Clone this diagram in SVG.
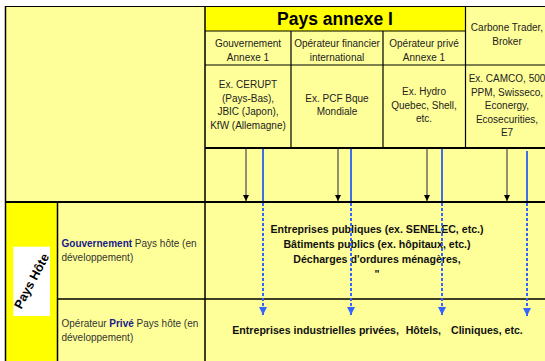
<svg xmlns="http://www.w3.org/2000/svg" width="545" height="361" viewBox="0 0 545 361">
<style>
.t{font-family:"Liberation Sans",Arial,sans-serif;font-size:10px;fill:#222;text-anchor:middle}
.l{font-family:"Liberation Sans",Arial,sans-serif;font-size:10px;fill:#333}
.b{font-family:"Liberation Sans",Arial,sans-serif;font-size:10.6px;font-weight:bold;fill:#111;text-anchor:middle}
.nv{font-weight:bold;fill:#1a1a8a}
.thin{stroke:#000;stroke-width:1.2;fill:none}
.mid{stroke:#000;stroke-width:1.5;fill:none}
.thick{stroke:#000;stroke-width:2.2;fill:none}
.grey{stroke:#555;stroke-width:1.3;marker-end:url(#ah)}
.blue{stroke:#3f6fe8;stroke-width:2}
.bd{stroke:#3366ff;stroke-width:2;stroke-dasharray:3 2;marker-end:url(#bh)}
</style>
<defs>
<marker id="ah" viewBox="0 0 10 10" refX="10" refY="5" markerUnits="userSpaceOnUse" markerWidth="6" markerHeight="7" orient="auto"><path d="M0,0 L10,5 L0,10 z" fill="#000"/></marker>
<marker id="bh" viewBox="0 0 10 10" refX="10" refY="5" markerUnits="userSpaceOnUse" markerWidth="9" markerHeight="8" orient="auto"><path d="M0,0 L10,5 L0,10 z" fill="#3366ff"/></marker>
</defs>
<rect x="0" y="0" width="545" height="361" fill="#fff"/>
<rect x="5" y="6" width="540" height="355" fill="#FFFF99"/>
<g id="header-pays-annexe">
<rect x="205" y="6" width="260" height="25" fill="#FFFF00"/>
<text x="335" y="25" style="font-family:'Liberation Sans',Arial,sans-serif;font-size:17.5px;font-weight:bold;text-anchor:middle" fill="#000">Pays annexe I</text>
</g>
<g id="col-gouv">
<text class="t" x="248" y="47">Gouvernement</text>
<text class="t" x="248" y="61">Annexe 1</text>
<text class="t" x="248" y="88">Ex. CERUPT</text>
<text class="t" x="248" y="101.5">(Pays-Bas),</text>
<text class="t" x="248" y="115">JBIC (Japon),</text>
<text class="t" x="248" y="128.5">KfW (Allemagne)</text>
</g>
<g id="col-financier">
<text class="t" x="337" y="47">Opérateur financier</text>
<text class="t" x="337" y="61">international</text>
<text class="t" x="337" y="101.5">Ex. PCF Bque</text>
<text class="t" x="337" y="115">Mondiale</text>
</g>
<g id="col-prive">
<text class="t" x="424" y="47">Opérateur privé</text>
<text class="t" x="424" y="61">Annexe 1</text>
<text class="t" x="424" y="95">Ex. Hydro</text>
<text class="t" x="424" y="108.5">Quebec, Shell,</text>
<text class="t" x="424" y="122">etc.</text>
</g>
<g id="col-broker">
<text class="t" x="507" y="31">Carbone Trader,</text>
<text class="t" x="507" y="45">Broker</text>
<text class="t" x="507" y="82">Ex. CAMCO, 500</text>
<text class="t" x="507" y="95.5">PPM, Swisseco,</text>
<text class="t" x="507" y="109">Econergy,</text>
<text class="t" x="507" y="122.5">Ecosecurities,</text>
<text class="t" x="507" y="136">E7</text>
</g>
<g id="pays-hote">
<rect x="5" y="202" width="52.5" height="159" fill="#FFFF00"/>
<rect x="13.3" y="246.7" width="36.7" height="69.3" fill="#fff"/>
<text transform="translate(31.5,281) rotate(-62)" dy="0.35em" style="font-family:'Liberation Sans',Arial,sans-serif;font-size:12.5px;font-weight:bold;text-anchor:middle" fill="#000">Pays Hôte</text>
</g>
<g id="row-gouv-hote">
<text class="l" x="61.5" y="246.7"><tspan class="nv">Gouvernement</tspan> Pays hôte (en</text>
<text class="l" x="61.5" y="261">développement)</text>
</g>
<g id="row-prive-hote">
<text class="l" x="61.5" y="327">Opérateur <tspan class="nv">Privé</tspan> Pays hôte (en</text>
<text class="l" x="61.5" y="341">développement)</text>
</g>
<g id="cell-publics">
<text class="b" x="377" y="233.3">Entreprises publiques (ex. SENELEC, etc.)</text>
<text class="b" x="377" y="247.5">Bâtiments publics (ex. hôpitaux, etc.)</text>
<text class="b" x="377" y="262.5">Décharges d'ordures ménagères,</text>
<text class="b" x="377" y="277.5">"</text>
</g>
<g id="cell-prives">
<text class="b" y="334" style="text-anchor:start"><tspan x="232.3">Entreprises industrielles privées,</tspan><tspan x="405.7">Hôtels,</tspan><tspan x="451">Cliniques, etc.</tspan></text>
</g>
<g id="grid">
<path class="thin" d="M5,6.5 H545 M205,31 H465 M205,65 H545 M291,31 V148 M383,31 V148 M465.5,6 V148"/>
<path class="mid" d="M5.5,6 V361 M205,6 V361 M57.5,202 V361 M57,299 H545"/>
<path class="thick" d="M205,148 H545 M5,202 H545"/>
</g>
<g id="connectors">
<line class="grey" x1="246" y1="149" x2="246" y2="201"/>
<line class="grey" x1="338" y1="149" x2="338" y2="201"/>
<line class="grey" x1="427" y1="149" x2="427" y2="201"/>
<line class="grey" x1="507" y1="149" x2="507" y2="201"/>
<line class="blue" x1="263" y1="149" x2="263" y2="201"/>
<line class="blue" x1="351" y1="149" x2="351" y2="201"/>
<line class="blue" x1="442" y1="149" x2="442" y2="201"/>
<line class="blue" x1="527" y1="151" x2="527" y2="201"/>
<line class="bd" x1="263" y1="203" x2="263" y2="315"/>
<line class="bd" x1="351" y1="203" x2="351" y2="315"/>
<line class="bd" x1="442" y1="203" x2="442" y2="315"/>
<line class="bd" x1="527" y1="203" x2="527" y2="316"/>
</g>
</svg>
